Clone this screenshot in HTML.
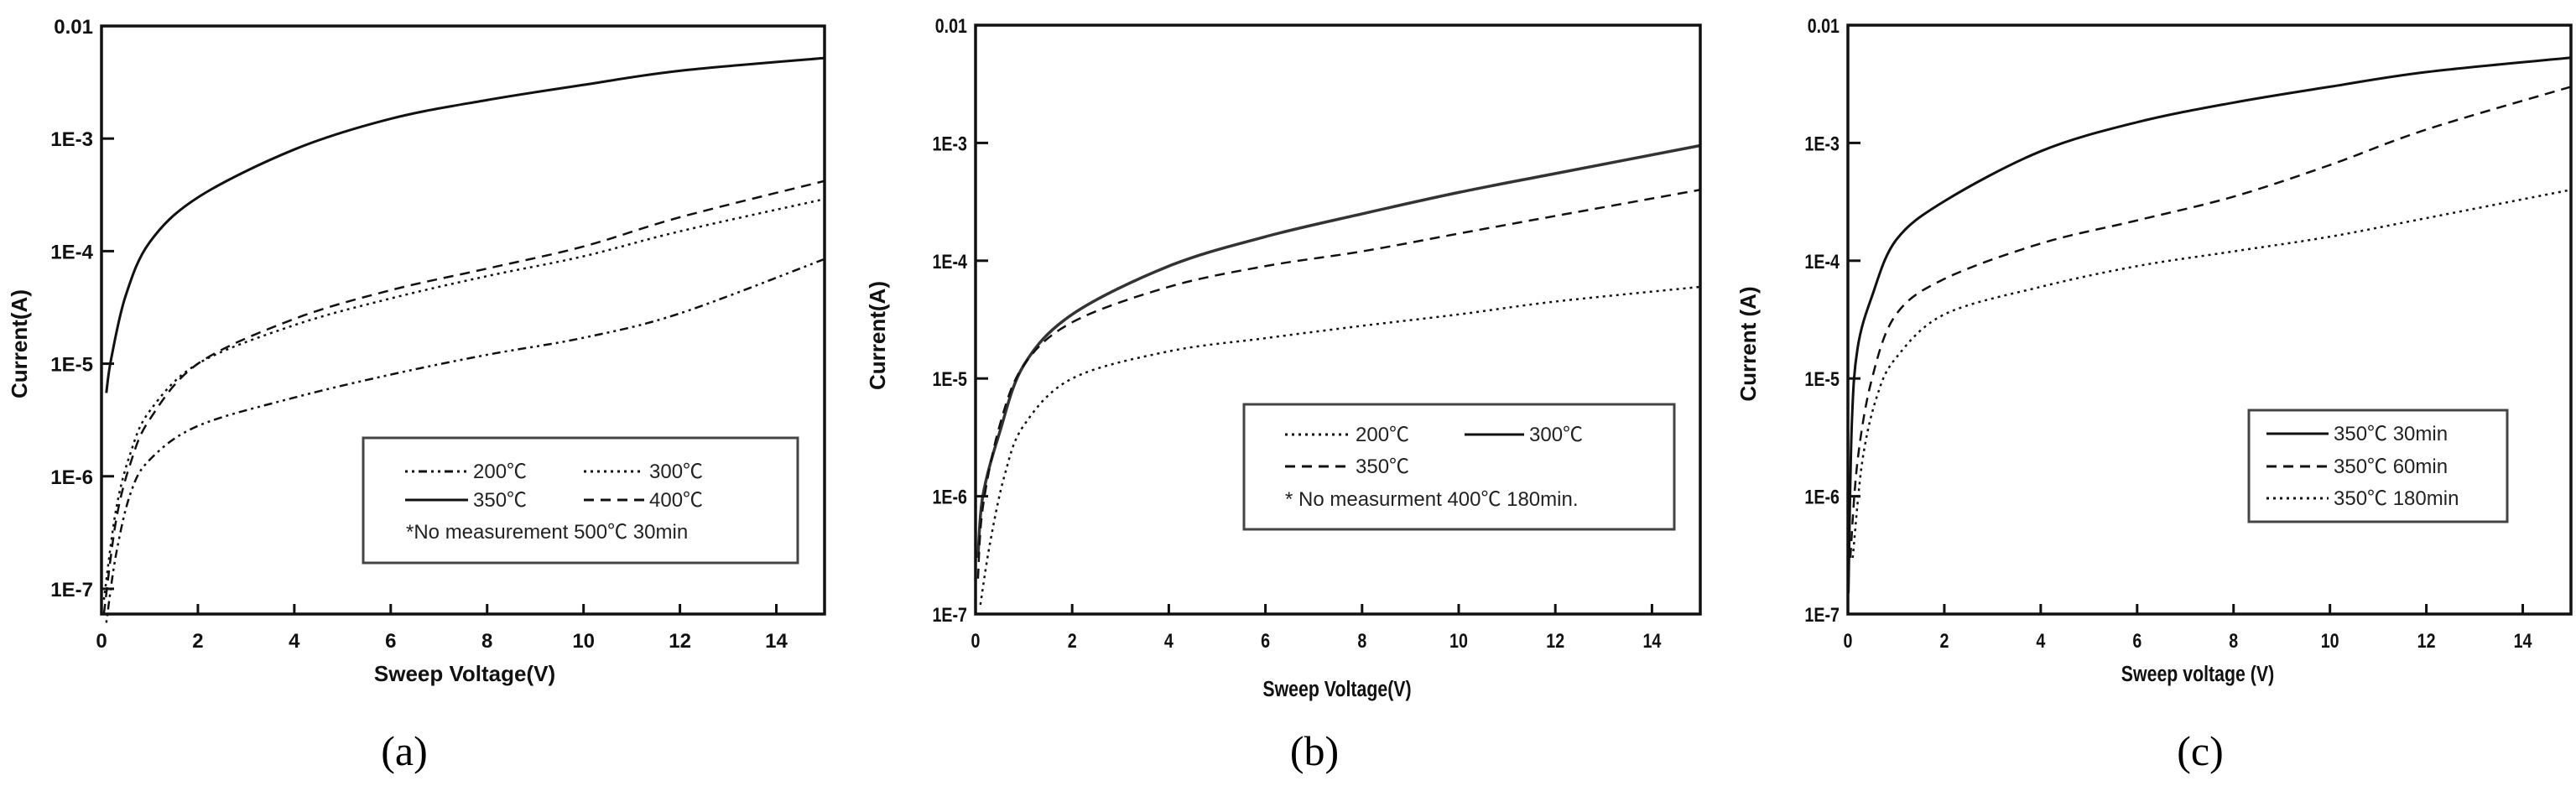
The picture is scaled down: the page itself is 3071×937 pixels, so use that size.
<!DOCTYPE html>
<html><head><meta charset="utf-8"><style>
body{margin:0;background:#fff;}
svg{display:block}
.t{font-family:"Liberation Sans",sans-serif;font-weight:bold;fill:#111}
.l{font-family:"Liberation Sans","Noto Sans CJK SC",sans-serif;fill:#222}
.cap{font-family:"Liberation Serif",serif;fill:#000;font-size:50px}
</style></head><body>
<svg id="s" width="3071" height="937" viewBox="0 0 3071 937" xmlns="http://www.w3.org/2000/svg">
<text class="cap" x="482" y="912" text-anchor="middle">(a)</text>
<text class="cap" x="1567" y="912" text-anchor="middle">(b)</text>
<text class="cap" x="2623" y="912" text-anchor="middle">(c)</text>
</svg>
<script>
const S=document.getElementById('s');const NS='http://www.w3.org/2000/svg';
function el(t,a,txt){const e=document.createElementNS(NS,t);for(const k in a)e.setAttribute(k,a[k]);if(txt)e.textContent=txt;S.appendChild(e);return e;}
function panel(P){
 const X=v=>P.x0+v*(P.x1-P.x0)/15;
 const Y=l=>P.yt+(P.lt-l)*(P.yb-P.yt)/(P.lt-P.lb);
 // series
 P.series.forEach(s=>{
  const pts=s.d;let d='';
  // catmull-rom in (x,log)
  const pp=pts.map(p=>[X(p[0]),Y(Math.log10(p[1]))]);
  d='M'+pp[0][0]+','+pp[0][1];
  for(let i=0;i<pp.length-1;i++){const p0=pp[Math.max(0,i-1)],p1=pp[i],p2=pp[i+1],p3=pp[Math.min(pp.length-1,i+2)];
   d+=` C${p1[0]+(p2[0]-p0[0])/6},${p1[1]+(p2[1]-p0[1])/6} ${p2[0]-(p3[0]-p1[0])/6},${p2[1]-(p3[1]-p1[1])/6} ${p2[0]},${p2[1]}`;}
  el('path',{d,fill:'none',stroke:s.c||'#111','stroke-width':s.w||2.5,'stroke-dasharray':s.da||''});
 });
 el('rect',{x:P.x0,y:P.yt,width:P.x1-P.x0,height:P.yb-P.yt,fill:'none',stroke:'#111','stroke-width':3.5});
 for(let v=0;v<=14;v+=2){el('line',{x1:X(v),x2:X(v),y1:P.yb,y2:P.yb-12,stroke:'#111','stroke-width':3});
  el('text',{class:'t',x:X(v),y:P.yb+40,'text-anchor':'middle','font-size':P.fs,transform:P.sx?`translate(${X(v)},0) scale(${P.sx},1) translate(${-X(v)},0)`:''},''+v);}
 const labs={'-2':'0.01','-3':'1E-3','-4':'1E-4','-5':'1E-5','-6':'1E-6','-7':'1E-7'};
 for(let l=-2;l>=-7;l--){const y=Y(l);
  if(l<-2)el('line',{x1:P.x0,x2:P.x0+15,y1:y,y2:y,stroke:'#111','stroke-width':3});
  const tx=P.x0-10;
  el('text',{class:'t',x:tx,y:y+9,'text-anchor':'end','font-size':P.fs,transform:P.sx?`translate(${tx},0) scale(${P.sx},1) translate(${-tx},0)`:''},labs[l]);}
 el('text',{class:'t',x:0,y:0,'font-size':P.fs+2,'text-anchor':'middle',transform:`translate(${P.ylx},${P.yly}) rotate(-90)`},P.ylab);
 el('text',{class:'t',x:P.xlx,y:P.xly,'font-size':P.fs+2,'text-anchor':'middle',transform:P.sx?`translate(${P.xlx},0) scale(${P.sx},1) translate(${-P.xlx},0)`:''},P.xlab);
 const L=P.leg;el('rect',{x:L.x,y:L.y,width:L.w,height:L.h,fill:'#fff',stroke:'#444','stroke-width':3});
 L.items.forEach(it=>{el('line',{x1:it[0],x2:it[1],y1:it[2]-8,y2:it[2]-8,stroke:'#111','stroke-width':3,'stroke-dasharray':it[3]});
  el('text',{class:'l',x:it[1]+6,y:it[2],'font-size':24},it[4]);});
 L.txt.forEach(t=>el('text',{class:'l',x:t[0],y:t[1],'font-size':24},t[2]));
}
const dd='3 5 3 5 10 5',dot='3 5',dash='12 8';
panel({x0:121,x1:983,yt:31,yb:732,lt:-2,lb:-7.224,fs:24,ylab:'Current(A)',ylx:32,yly:410,xlab:'Sweep Voltage(V)',xlx:554,xly:812,
 series:[
 {d:[[0.1,5.5e-6],[0.2,1.1e-5],[0.5,4e-5],[1,1.2e-4],[2,3e-4],[4,8e-4],[6,1.5e-3],[8,2.2e-3],[10,3e-3],[12,4e-3],[15,5.2e-3]],w:3},
 {d:[[0.05,6e-8],[0.3,4e-7],[0.6,1.3e-6],[1,3.2e-6],[2,1e-5],[4,2.5e-5],[6,4.5e-5],[8,7e-5],[10,1.1e-4],[12,2e-4],[15,4.2e-4]],da:dash},
 {d:[[0.05,8e-8],[0.3,5e-7],[0.6,1.6e-6],[1,3.8e-6],[2,1e-5],[4,2.2e-5],[6,3.8e-5],[8,6e-5],[10,9e-5],[12,1.5e-4],[15,2.9e-4]],da:dot},
 {d:[[0.1,5e-8],[0.3,2e-7],[0.6,7e-7],[1,1.4e-6],[2,2.8e-6],[4,5e-6],[6,8e-6],[8,1.2e-5],[10,1.7e-5],[12,2.8e-5],[15,8.5e-5]],da:dd}],
 leg:{x:433,y:522,w:518,h:149,items:[[483,558,570,dd,'200℃'],[696,768,570,dot,'300℃'],[483,558,604,'','350℃'],[696,768,604,dash,'400℃']],txt:[[484,642,'*No measurement   500℃ 30min']]}});
panel({x0:1163,x1:2027,yt:30,yb:732,lt:-2,lb:-7,fs:24,sx:0.82,ylab:'Current(A)',ylx:1055,yly:400,xlab:'Sweep Voltage(V)',xlx:1594,xly:830,
 series:[
 {d:[[0.05,3e-7],[0.15,1e-6],[0.5,3.5e-6],[1,1.3e-5],[2,3.5e-5],[4,9e-5],[6,1.6e-4],[8,2.5e-4],[10,3.8e-4],[12,5.5e-4],[15,9.5e-4]],w:3.5,c:'#333'},
 {d:[[0.05,2e-7],[0.15,8e-7],[0.5,4e-6],[1,1.3e-5],[2,3e-5],[4,6e-5],[6,9e-5],[8,1.2e-4],[10,1.7e-4],[12,2.4e-4],[15,4e-4]],da:dash},
 {d:[[0.1,1.2e-7],[0.3,4e-7],[0.6,1.5e-6],[1,4e-6],[2,1e-5],[4,1.7e-5],[6,2.2e-5],[8,2.8e-5],[10,3.5e-5],[12,4.5e-5],[15,6e-5]],da:dot}],
 leg:{x:1483,y:482,w:513,h:149,items:[[1532,1610,526,dot,'200℃'],[1746,1817,526,'','300℃'],[1532,1610,564,dash,'350℃']],txt:[[1532,603,'* No measurment 400℃ 180min.']]}});
panel({x0:2203,x1:3065,yt:30,yb:732,lt:-2,lb:-7,fs:24,sx:0.82,ylab:'Current (A)',ylx:2093,yly:410,xlab:'Sweep voltage (V)',xlx:2620,xly:812,
 series:[
 {d:[[0.01,1.5e-7],[0.08,4e-6],[0.2,1.8e-5],[0.5,5e-5],[1,1.5e-4],[2,3.2e-4],[4,8.5e-4],[6,1.5e-3],[8,2.2e-3],[10,3e-3],[12,4e-3],[15,5.3e-3]],w:3},
 {d:[[0.05,3e-7],[0.2,2e-6],[0.5,1e-5],[1,3.5e-5],[2,7e-5],[4,1.4e-4],[6,2.2e-4],[8,3.5e-4],[10,6.5e-4],[12,1.3e-3],[15,3e-3]],da:dash},
 {d:[[0.1,3e-7],[0.3,2e-6],[0.6,7e-6],[1,1.5e-5],[2,3.5e-5],[4,6e-5],[6,9e-5],[8,1.2e-4],[10,1.6e-4],[12,2.3e-4],[15,4e-4]],da:dot}],
 leg:{x:2681,y:489,w:308,h:133,items:[[2702,2776,525,'','350℃  30min'],[2702,2776,564,dash,'350℃  60min'],[2702,2776,602,dot,'350℃  180min']],txt:[]}});
</script>
</body></html>
